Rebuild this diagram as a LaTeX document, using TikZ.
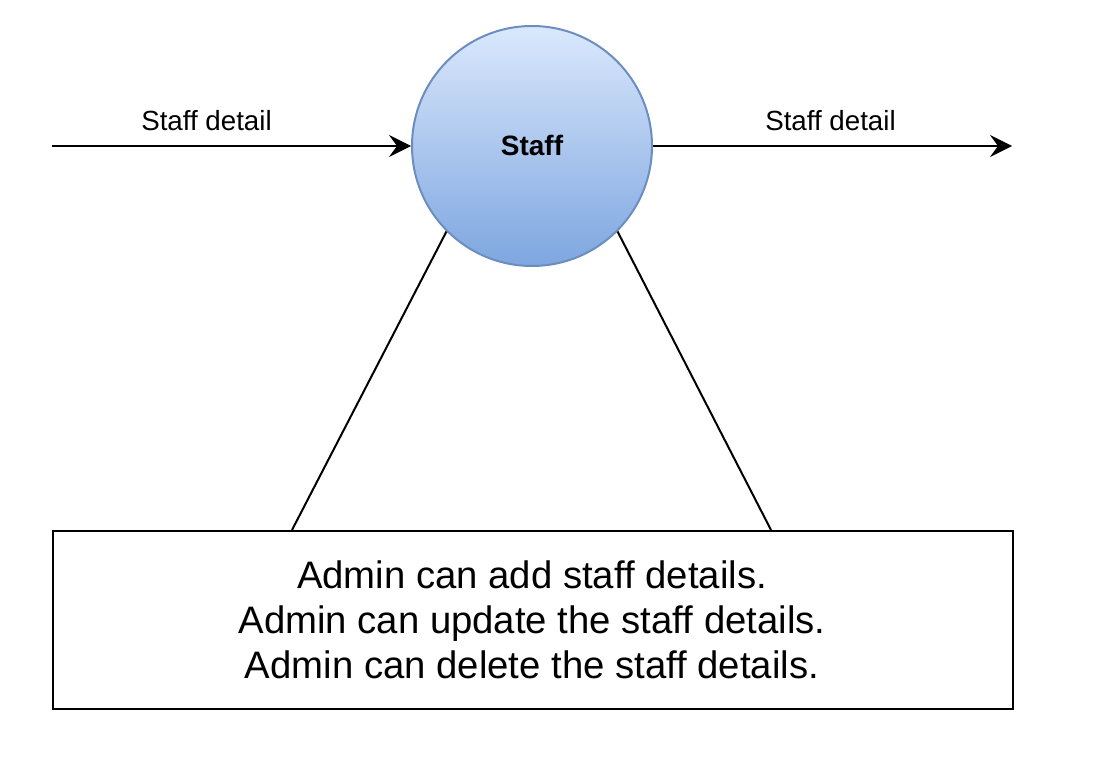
\documentclass[tikz,border=0pt]{standalone}
\usepackage{fontspec}
\setmainfont{Liberation Sans}
\usetikzlibrary{arrows.meta,calc}
\definecolor{circfill1}{HTML}{DAE8FC}
\definecolor{circfill2}{HTML}{7EA6E0}
\definecolor{circline}{HTML}{6C8EBF}
\begin{document}
\begin{tikzpicture}[x=1pt,y=-1pt,
  lbl/.style={anchor=base,inner sep=0pt,font=\fontsize{27.7}{32}\selectfont},
  boxtxt/.style={anchor=base,inner sep=0pt,font=\fontsize{38.3}{45}\selectfont},
  flow/.style={line width=2pt,-{Stealth[length=22pt,width=22pt,inset=8pt]}},
  conn/.style={line width=2pt}]
\path[use as bounding box,fill=white] (0,0) rectangle (1118,778);
\node (c) [circle,draw=circline,line width=2pt,top color=circfill1,bottom color=circfill2,
  minimum size=240pt,inner sep=0pt] at (532,146) {};
\node (ct) [anchor=base,inner sep=0pt,font=\fontsize{28}{32}\selectfont\bfseries] at (532,155.5) {Staff};
\coordinate (lstart) at (52,146);
\coordinate (rend) at (1012,146);
\draw[flow] (lstart) -- (c.west);
\draw[flow] (c.east) -- (rend);
\node (l1) [lbl] at (206.5,131) {Staff detail};
\node (l2) [lbl] at (830.5,131) {Staff detail};
\node (box) [draw,line width=2pt,minimum width=960pt,minimum height=178pt,inner sep=0pt,anchor=north west] at (52,530) {};
\coordinate (bl) at ($(box.north west)+(240,0)$);
\coordinate (br) at ($(box.north west)+(719,0)$);
\draw[conn] (c.225) -- (bl);
\draw[conn] (c.-45) -- (br);
\node (t1) [boxtxt] at (532,588) {Admin can add staff details.};
\node (t2) [boxtxt] at (532,633) {Admin can update the staff details.};
\node (t3) [boxtxt] at (532,678) {Admin can delete the staff details.};
\end{tikzpicture}
\end{document}
